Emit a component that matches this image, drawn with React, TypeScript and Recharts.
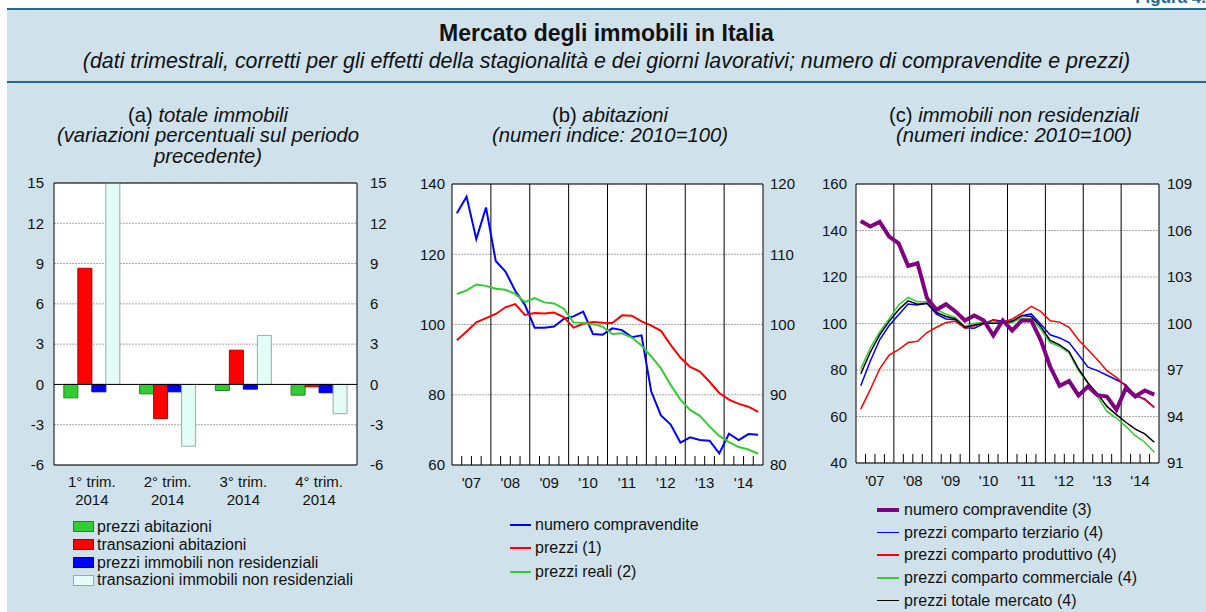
import React from 'react'
import { BarChart, Bar, LineChart, Line, XAxis, YAxis, CartesianGrid, ReferenceLine } from 'recharts'

const FONT = '"Liberation Sans", Arial, Helvetica, sans-serif'
const BG = '#cfe1eb'
const TEAL = '#1f6b8e'
const INK = '#111'

// (a) totale immobili - variazioni percentuali
const TRIM = ['1° trim.', '2° trim.', '3° trim.', '4° trim.']
const TRIM_YEAR = ['2014', '2014', '2014', '2014']
const PREZZI_AB = [-1.0, -0.7, -0.45, -0.8]
const TRANS_AB = [8.65, -2.55, 2.55, -0.18]
const PREZZI_NR = [-0.55, -0.55, -0.35, -0.62]
const TRANS_NR = [16.5, -4.6, 3.65, -2.18]
const TICKS_A = [-6, -3, 0, 3, 6, 9, 12, 15]

// quarters 2007-2014
const YEARS = ["'07", "'08", "'09", "'10", "'11", "'12", "'13", "'14"]
const QUARTERS = YEARS.flatMap((y) => [y + ' I', y + ' II', y + ' III', y + ' IV'])

// (b) abitazioni
const B_COMPR = [131.7, 136.4, 124.3, 133.3, 118.1, 115.1, 109.6, 105.6, 99.1, 99.1, 99.4, 101.6,
  102.3, 103.7, 97.3, 97.1, 98.9, 98.4, 96.4, 96.9, 80.9, 74.1, 71.5, 66.4,
  67.9, 67.1, 66.9, 63.3, 68.9, 67.1, 68.8, 68.6]
const B_PREZZI = [97.75, 99.0, 100.3, 100.9, 101.5, 102.45, 102.9, 101.35, 101.65, 101.55, 101.7, 101.05,
  99.55, 100.1, 100.35, 100.25, 100.2, 101.3, 101.25, 100.45, 99.85, 99.1, 97.1, 95.3,
  93.95, 93.3, 91.85, 90.25, 89.3, 88.7, 88.3, 87.55]
const B_REALI = [104.35, 104.85, 105.7, 105.5, 105.1, 104.95, 104.35, 103.2, 103.75, 103.15, 103.0, 102.25,
  100.3, 100.2, 100.05, 99.7, 98.65, 98.75, 98.15, 97.0, 95.45, 93.75, 91.4, 89.3,
  87.85, 87.0, 85.5, 84.15, 83.25, 82.55, 82.2, 81.6]
const TICKS_B_L = [60, 80, 100, 120, 140]
const TICKS_B_R = [80, 90, 100, 110, 120]

// (c) immobili non residenziali
const C_COMPR = [144.1, 141.7, 143.7, 137.4, 134.5, 124.8, 125.9, 110.9, 105.9, 108.3, 105.2, 101.3,
  103.4, 101.3, 94.8, 101.3, 97.0, 101.3, 101.3, 93.0, 81.5, 73.2, 75.2, 69.1,
  72.9, 69.2, 68.6, 62.9, 72.2, 68.6, 71.2, 69.4]
const C_TERZ = [95.98, 97.56, 98.95, 99.87, 100.56, 101.26, 101.2, 101.31, 100.6, 100.29, 100.24, 99.72,
  99.7, 99.99, 100.24, 100.14, 100.14, 100.51, 100.62, 99.96, 99.27, 99.07, 98.77, 97.98,
  97.18, 96.96, 96.66, 96.37, 96.04, 95.34, 95.13, 94.59]
const C_PROD = [94.48, 95.73, 97.08, 97.96, 98.31, 98.77, 98.85, 99.42, 99.76, 100.06, 100.14, 99.7,
  99.85, 100.02, 100.2, 100.06, 100.29, 100.66, 101.1, 100.78, 100.17, 100.09, 99.76, 98.95,
  98.31, 97.66, 96.96, 96.52, 95.94, 95.41, 95.08, 94.59]
const C_COMM = [97.08, 98.41, 99.45, 100.29, 101.2, 101.68, 101.41, 101.41, 100.89, 100.6, 100.39, 99.81,
  100.02, 100.06, 100.02, 100.02, 100.06, 100.35, 100.3, 99.64, 98.77, 98.52, 98.1, 96.96,
  96.16, 95.29, 94.33, 93.9, 93.36, 92.76, 92.34, 91.69]
const C_TOT = [96.76, 98.13, 99.27, 100.14, 100.89, 101.46, 101.25, 101.31, 100.71, 100.45, 100.3, 99.76,
  99.91, 100.02, 100.02, 100.02, 100.14, 100.51, 100.45, 99.81, 98.91, 98.62, 98.2, 97.08,
  96.16, 95.47, 94.65, 94.12, 93.63, 93.19, 92.88, 92.34]
const TICKS_C_L = [40, 60, 80, 100, 120, 140, 160]
const TICKS_C_R = [91, 94, 97, 100, 103, 106, 109]

const A_DATA = TRIM.map((t, i) => ({
  cat: t, year: TRIM_YEAR[i], pa: PREZZI_AB[i], ta: TRANS_AB[i], pn: PREZZI_NR[i], tn: TRANS_NR[i],
}))
const B_DATA = QUARTERS.map((q, i) => ({ x: i + 0.5, q, compr: B_COMPR[i], prezzi: B_PREZZI[i], reali: B_REALI[i] }))
const C_DATA = QUARTERS.map((q, i) => ({
  x: i + 0.5, q, compr: C_COMPR[i], terz: C_TERZ[i], prod: C_PROD[i], comm: C_COMM[i], tot: C_TOT[i],
}))

// quarter boundaries (ticks) and year boundaries (vertical lines)
const Q_TICKS = Array.from({ length: 31 }, (_, i) => i + 1)
const YEAR_BOUNDS = [4, 8, 12, 16, 20, 24, 28]

const tickStyle = { fontSize: 15, fill: INK, fontFamily: FONT }

function QuarterTick(props: any) {
  const { x, y, payload } = props
  const v = payload.value
  return (
    <g>
      {v % 4 !== 0 && <line x1={x} x2={x} y1={y} y2={y - 9} stroke="#000" strokeWidth={1} />}
      {v % 4 === 2 && (
        <text x={x} y={y + 23} textAnchor="middle" {...tickStyle}>{YEARS[(v - 2) / 4]}</text>
      )}
    </g>
  )
}

function TrimTick(props: any) {
  const { x, y, payload, index } = props
  return (
    <text x={x} y={y} textAnchor="middle" {...tickStyle}>
      <tspan x={x} dy={22}>{payload.value}</tspan>
      <tspan x={x} dy={17.5}>{TRIM_YEAR[index]}</tspan>
    </text>
  )
}

function Legend({ left, top, rowH, items, fontSize, gap }: any) {
  return (
    <div style={{ position: 'absolute', left, top, fontFamily: FONT, fontSize, color: INK }}>
      {items.map((it: any) => (
        <div key={it.label} style={{ display: 'flex', alignItems: 'center', height: rowH, whiteSpace: 'nowrap' }}>
          {it.box ? (
            <span style={{ width: 19, height: 9, background: it.color, border: '1px solid ' + it.stroke, display: 'inline-block' }} />
          ) : (
            <span style={{ width: it.w, height: it.h, background: it.color, display: 'inline-block' }} />
          )}
          <span style={{ marginLeft: gap }}>{it.label}</span>
        </div>
      ))}
    </div>
  )
}

const GRID = { stroke: '#a8a8a8', strokeDasharray: '2 1' }
const PANEL_TITLE = { position: 'absolute' as const, width: 420, top: 104.5, textAlign: 'center' as const, fontSize: 20.3, color: INK, lineHeight: '20.5px' }

export default function App() {
  return (
    <div style={{ position: 'absolute', left: 0, top: 0, width: 1206, height: 612, background: '#fff', overflow: 'hidden', fontFamily: FONT }}>
      <div style={{ position: 'absolute', right: 0, top: -12, fontSize: 17, fontWeight: 'bold', color: TEAL }}>Figura 4.</div>
      <div style={{ position: 'absolute', left: 7, top: 8, right: 0, bottom: 0, background: BG }} />
      <div style={{ position: 'absolute', left: 7, top: 8, right: 0, height: 2, background: TEAL }} />
      <div style={{ position: 'absolute', left: 7, top: 81, right: 0, height: 1.5, background: TEAL }} />

      <div style={{ position: 'absolute', left: 7, width: 1199, top: 19, textAlign: 'center', fontSize: 23, fontWeight: 'bold', color: INK, lineHeight: '28px' }}>
        Mercato degli immobili in Italia
      </div>
      <div style={{ position: 'absolute', left: 7, width: 1199, top: 48, textAlign: 'center', fontSize: 21.4, fontStyle: 'italic', color: INK, lineHeight: '26px' }}>
        (dati trimestrali, corretti per gli effetti della stagionalità e dei giorni lavorativi; numero di compravendite e prezzi)
      </div>

      <div style={{ ...PANEL_TITLE, left: -2 }}>
        (a) <i>totale immobili</i><br /><i>(variazioni percentuali sul periodo<br />precedente)</i>
      </div>
      <div style={{ ...PANEL_TITLE, left: 400 }}>
        (b) <i>abitazioni</i><br /><i>(numeri indice: 2010=100)</i>
      </div>
      <div style={{ ...PANEL_TITLE, left: 804 }}>
        (c) <i>immobili non residenziali</i><br /><i>(numeri indice: 2010=100)</i>
      </div>

      <div style={{ position: 'absolute', left: 0, top: 173 }}>
        <BarChart width={410} height={337} data={A_DATA} margin={{ top: 10, right: 0, bottom: 0, left: 0 }} barCategoryGap="13%" barGap={0}>
          <CartesianGrid vertical={false} fill="#fff" yAxisId="l" {...GRID} />
          <XAxis dataKey="cat" height={45} interval={0} tickLine={false} tickSize={0} tickMargin={0} axisLine={{ stroke: '#000' }} tick={TrimTick} />
          <YAxis yAxisId="l" domain={[-6, 15]} ticks={TICKS_A} allowDataOverflow width={54} tickLine={false} tickSize={0} tickMargin={10} axisLine={{ stroke: '#000' }} tick={tickStyle} />
          <YAxis yAxisId="r" orientation="right" domain={[-6, 15]} ticks={TICKS_A} allowDataOverflow width={53} tickLine={false} tickSize={0} tickMargin={13} axisLine={{ stroke: '#000' }} tick={tickStyle} />
          <Bar yAxisId="l" dataKey="pa" fill="#33cc33" stroke="#1c8a1c" isAnimationActive={false} />
          <Bar yAxisId="l" dataKey="ta" fill="#ff0000" stroke="#b00000" isAnimationActive={false} />
          <Bar yAxisId="l" dataKey="pn" fill="#0000ff" stroke="#0000a8" isAnimationActive={false} />
          <Bar yAxisId="l" dataKey="tn" fill="#e2fdf6" stroke="#9aa8a6" isAnimationActive={false} />
          <ReferenceLine yAxisId="l" y={0} stroke="#000" />
          <ReferenceLine yAxisId="l" y={15} stroke="#000" />
        </BarChart>
      </div>

      <div style={{ position: 'absolute', left: 400, top: 174 }}>
        <LineChart width={415} height={321} data={B_DATA} margin={{ top: 10, right: 0, bottom: 0, left: 0 }}>
          <CartesianGrid vertical={false} fill="#fff" yAxisId="l" {...GRID} />
          <XAxis type="number" dataKey="x" domain={[0, 32]} ticks={Q_TICKS} interval={0} height={30} tickLine={false} tickSize={0} tickMargin={0} axisLine={{ stroke: '#000' }} tick={QuarterTick} />
          <YAxis yAxisId="l" domain={[60, 140]} ticks={TICKS_B_L} width={52} tickLine={false} tickSize={0} tickMargin={7} axisLine={{ stroke: '#000' }} tick={tickStyle} />
          <YAxis yAxisId="r" orientation="right" domain={[80, 120]} ticks={TICKS_B_R} width={52} tickLine={false} tickSize={0} tickMargin={7} axisLine={{ stroke: '#000' }} tick={tickStyle} />
          {YEAR_BOUNDS.map((b) => <ReferenceLine key={b} yAxisId="l" x={b} stroke="#000" />)}
          <ReferenceLine yAxisId="l" y={140} stroke="#000" />
          <Line yAxisId="l" dataKey="compr" stroke="#0000ff" strokeWidth={2} dot={false} type="linear" isAnimationActive={false} />
          <Line yAxisId="r" dataKey="prezzi" stroke="#ff0000" strokeWidth={2} dot={false} type="linear" isAnimationActive={false} />
          <Line yAxisId="r" dataKey="reali" stroke="#33cc33" strokeWidth={2} dot={false} type="linear" isAnimationActive={false} />
        </LineChart>
      </div>

      <div style={{ position: 'absolute', left: 800, top: 174 }}>
        <LineChart width={406} height={319} data={C_DATA} margin={{ top: 10, right: 0, bottom: 0, left: 0 }}>
          <CartesianGrid vertical={false} fill="#fff" yAxisId="l" {...GRID} />
          <XAxis type="number" dataKey="x" domain={[0, 32]} ticks={Q_TICKS} interval={0} height={30} tickLine={false} tickSize={0} tickMargin={0} axisLine={{ stroke: '#000' }} tick={QuarterTick} />
          <YAxis yAxisId="l" domain={[40, 160]} ticks={TICKS_C_L} width={56} tickLine={false} tickSize={0} tickMargin={9} axisLine={{ stroke: '#000' }} tick={tickStyle} />
          <YAxis yAxisId="r" orientation="right" domain={[91, 109]} ticks={TICKS_C_R} width={47} tickLine={false} tickSize={0} tickMargin={8} axisLine={{ stroke: '#000' }} tick={tickStyle} />
          {YEAR_BOUNDS.map((b) => <ReferenceLine key={b} yAxisId="l" x={b} stroke="#000" />)}
          <ReferenceLine yAxisId="l" y={160} stroke="#000" />
          <Line yAxisId="r" dataKey="terz" stroke="#0000ff" strokeWidth={1.5} dot={false} type="linear" isAnimationActive={false} />
          <Line yAxisId="r" dataKey="prod" stroke="#ff0000" strokeWidth={1.5} dot={false} type="linear" isAnimationActive={false} />
          <Line yAxisId="r" dataKey="comm" stroke="#33cc33" strokeWidth={1.5} dot={false} type="linear" isAnimationActive={false} />
          <Line yAxisId="r" dataKey="tot" stroke="#000000" strokeWidth={1.5} dot={false} type="linear" isAnimationActive={false} />
          <Line yAxisId="l" dataKey="compr" stroke="#800080" strokeWidth={4} dot={false} type="linear" isAnimationActive={false} />
        </LineChart>
      </div>

      <Legend left={73} top={518} rowH={17.8} fontSize={16} gap={3} items={[
        { label: 'prezzi abitazioni', box: true, color: '#33cc33', stroke: '#1c8a1c' },
        { label: 'transazioni abitazioni', box: true, color: '#ff0000', stroke: '#b00000' },
        { label: 'prezzi immobili non residenziali', box: true, color: '#0000ff', stroke: '#0000a8' },
        { label: 'transazioni immobili non residenziali', box: true, color: '#e2fdf6', stroke: '#9aa8a6' },
      ]} />
      <Legend left={510} top={513.5} rowH={23.3} fontSize={16} gap={4} items={[
        { label: 'numero compravendite', color: '#0000ff', w: 21, h: 2 },
        { label: 'prezzi (1)', color: '#ff0000', w: 21, h: 2 },
        { label: 'prezzi reali (2)', color: '#33cc33', w: 21, h: 2 },
      ]} />
      <Legend left={877} top={498.5} rowH={22.7} fontSize={16} gap={5} items={[
        { label: 'numero compravendite (3)', color: '#800080', w: 22, h: 3.5 },
        { label: 'prezzi comparto terziario (4)', color: '#0000ff', w: 22, h: 1.5 },
        { label: 'prezzi comparto produttivo (4)', color: '#ff0000', w: 22, h: 1.5 },
        { label: 'prezzi comparto commerciale (4)', color: '#33cc33', w: 22, h: 1.5 },
        { label: 'prezzi totale mercato (4)', color: '#000000', w: 22, h: 1.5 },
      ]} />
    </div>
  )
}
